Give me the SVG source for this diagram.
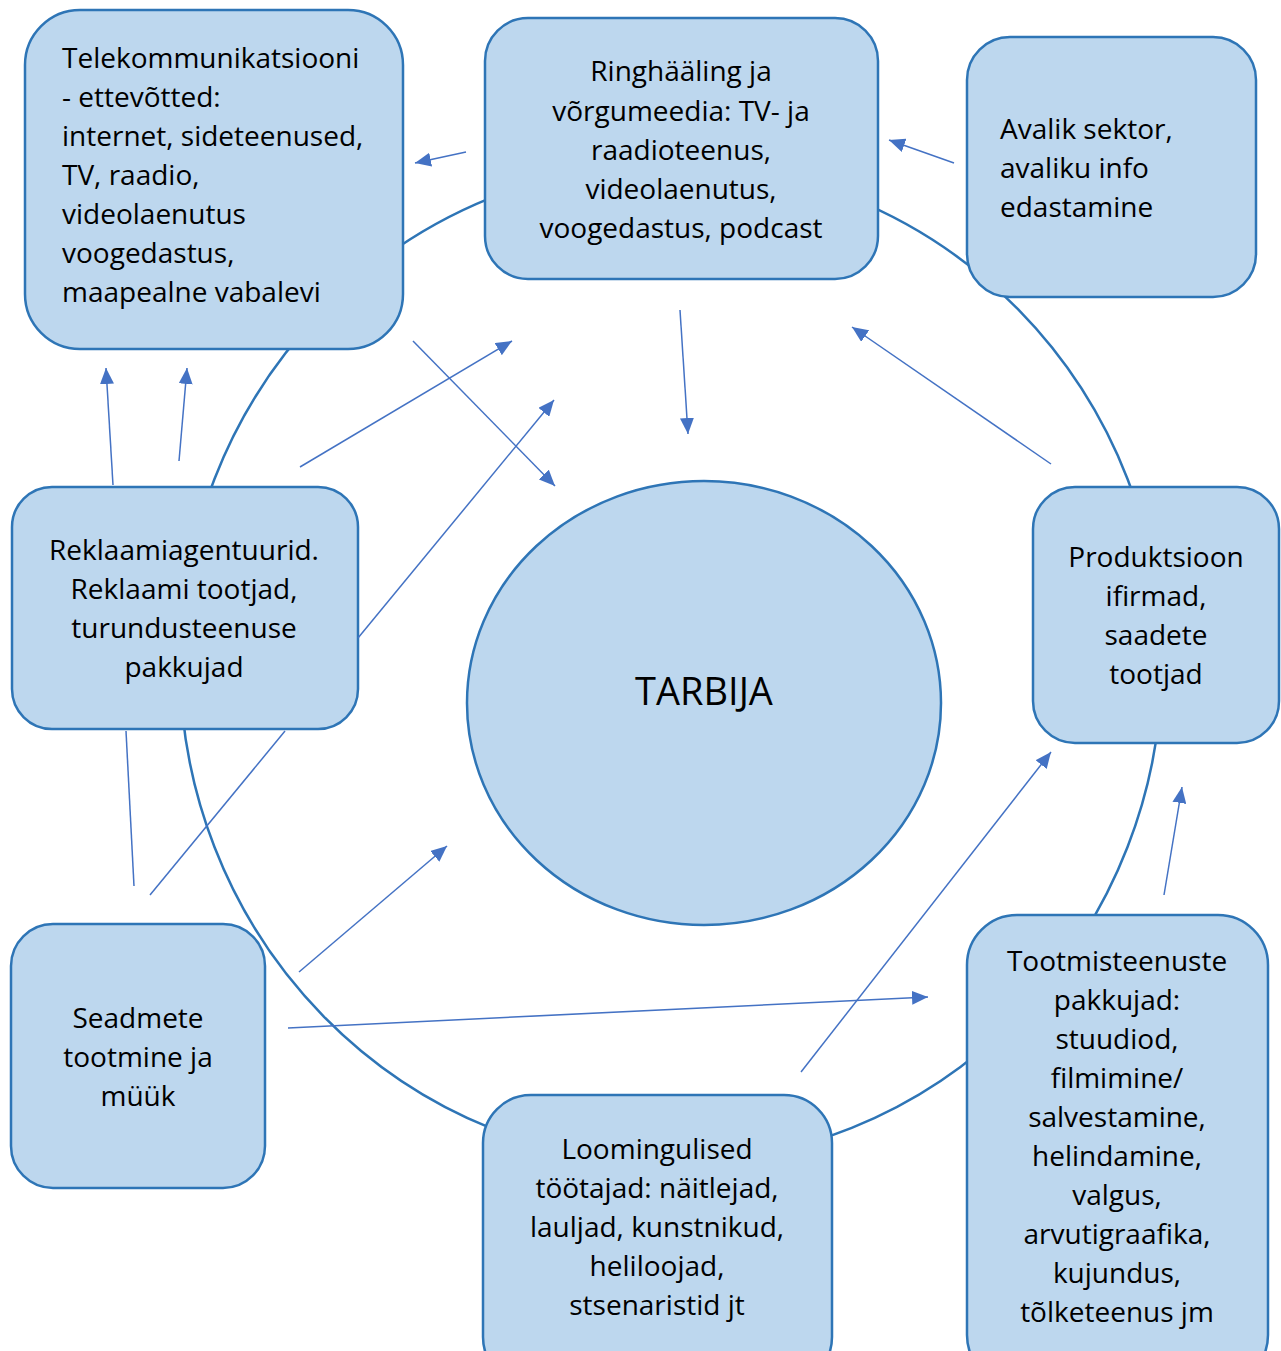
<svg xmlns="http://www.w3.org/2000/svg" width="1281" height="1351" viewBox="0 0 1281 1351">
<style>
.box{fill:#BDD7EE;stroke:#2E75B6;stroke-width:2.5}
.ring{fill:none;stroke:#2E75B6;stroke-width:2.5}
.t{font-family:"Open Sans","Liberation Sans",sans-serif;font-size:28px;fill:#000}
.c{text-anchor:middle}
.a{stroke:#4472C4;stroke-width:1.5;fill:none}
.ah{marker-end:url(#arr)}
</style>
<defs>
<marker id="arr" markerUnits="userSpaceOnUse" markerWidth="18" markerHeight="14" refX="16" refY="7" orient="auto">
<path d="M0,0 L16,7 L0,14 Z" fill="#4472C4"/>
</marker>
</defs>
<rect width="1281" height="1351" fill="#fff"/>
<ellipse class="ring" cx="671" cy="663" rx="491" ry="500"/>
<g id="telekom">
<rect class="box" x="25" y="10" width="378" height="339" rx="55"/>
<text class="t" x="62" y="68">Telekommunikatsiooni</text>
<text class="t" x="62" y="107">- ettevõtted:</text>
<text class="t" x="62" y="146">internet, sideteenused,</text>
<text class="t" x="62" y="185">TV, raadio,</text>
<text class="t" x="62" y="224">videolaenutus</text>
<text class="t" x="62" y="263">voogedastus,</text>
<text class="t" x="62" y="302">maapealne vabalevi</text>
</g>
<g id="ringhaaling">
<rect class="box" x="485" y="18" width="393" height="261" rx="43"/>
<text class="t c" x="681" y="81">Ringhääling ja</text>
<text class="t c" x="681" y="121">võrgumeedia: TV- ja</text>
<text class="t c" x="681" y="160">raadioteenus,</text>
<text class="t c" x="681" y="199">videolaenutus,</text>
<text class="t c" x="681" y="238">voogedastus, podcast</text>
</g>
<g id="avalik">
<rect class="box" x="967" y="37" width="289" height="260" rx="43"/>
<text class="t" x="1000" y="139">Avalik sektor,</text>
<text class="t" x="1000" y="178">avaliku info</text>
<text class="t" x="1000" y="217">edastamine</text>
</g>
<g id="reklaam">
<rect class="box" x="12" y="487" width="346" height="242" rx="40"/>
<text class="t c" x="184" y="560">Reklaamiagentuurid.</text>
<text class="t c" x="184" y="599">Reklaami tootjad,</text>
<text class="t c" x="184" y="638">turundusteenuse</text>
<text class="t c" x="184" y="677">pakkujad</text>
</g>
<g id="produktsioon">
<rect class="box" x="1033" y="487" width="246" height="256" rx="42"/>
<text class="t c" x="1156" y="567">Produktsioon</text>
<text class="t c" x="1156" y="606">ifirmad,</text>
<text class="t c" x="1156" y="645">saadete</text>
<text class="t c" x="1156" y="684">tootjad</text>
</g>
<g id="seadmete">
<rect class="box" x="11" y="924" width="254" height="264" rx="42"/>
<text class="t c" x="138" y="1028">Seadmete</text>
<text class="t c" x="138" y="1067">tootmine ja</text>
<text class="t c" x="138" y="1106">müük</text>
</g>
<g id="loomingulised">
<rect class="box" x="483" y="1095" width="349" height="290" rx="48"/>
<text class="t c" x="657" y="1159">Loomingulised</text>
<text class="t c" x="657" y="1198">töötajad: näitlejad,</text>
<text class="t c" x="657" y="1237">lauljad, kunstnikud,</text>
<text class="t c" x="657" y="1276">heliloojad,</text>
<text class="t c" x="657" y="1315">stsenaristid jt</text>
</g>
<g id="tootmis">
<rect class="box" x="967" y="915" width="301" height="470" rx="50"/>
<text class="t c" x="1117" y="971">Tootmisteenuste</text>
<text class="t c" x="1117" y="1010">pakkujad:</text>
<text class="t c" x="1117" y="1049">stuudiod,</text>
<text class="t c" x="1117" y="1088">filmimine/</text>
<text class="t c" x="1117" y="1127">salvestamine,</text>
<text class="t c" x="1117" y="1166">helindamine,</text>
<text class="t c" x="1117" y="1205">valgus,</text>
<text class="t c" x="1117" y="1244">arvutigraafika,</text>
<text class="t c" x="1117" y="1283">kujundus,</text>
<text class="t c" x="1117" y="1322">tõlketeenus jm</text>
</g>
<g id="tarbija">
<ellipse class="box" cx="704" cy="703" rx="237" ry="222"/>
<text class="t c" x="704" y="705" style="font-size:38px">TARBIJA</text>
</g>
<g id="connectors">
<line class="a ah" x1="466" y1="152" x2="415" y2="163"/>
<line class="a ah" x1="954" y1="163" x2="889" y2="140"/>
<line class="a ah" x1="680" y1="310" x2="688" y2="434"/>
<line class="a ah" x1="413" y1="341" x2="555" y2="486"/>
<line class="a ah" x1="300" y1="467" x2="512" y2="341"/>
<line class="a ah" x1="358" y1="638" x2="554" y2="400"/>
<line class="a ah" x1="113" y1="485" x2="106" y2="368"/>
<line class="a ah" x1="179" y1="461" x2="187" y2="368"/>
<line class="a ah" x1="1051" y1="464" x2="852" y2="327"/>
<line class="a" x1="134" y1="886" x2="126" y2="731"/>
<line class="a" x1="150" y1="895" x2="285" y2="731"/>
<line class="a ah" x1="299" y1="972" x2="447" y2="846"/>
<line class="a ah" x1="288" y1="1028" x2="928" y2="997"/>
<line class="a ah" x1="801" y1="1072" x2="1051" y2="752"/>
<line class="a ah" x1="1164" y1="895" x2="1182" y2="787"/>
</g>
</svg>
